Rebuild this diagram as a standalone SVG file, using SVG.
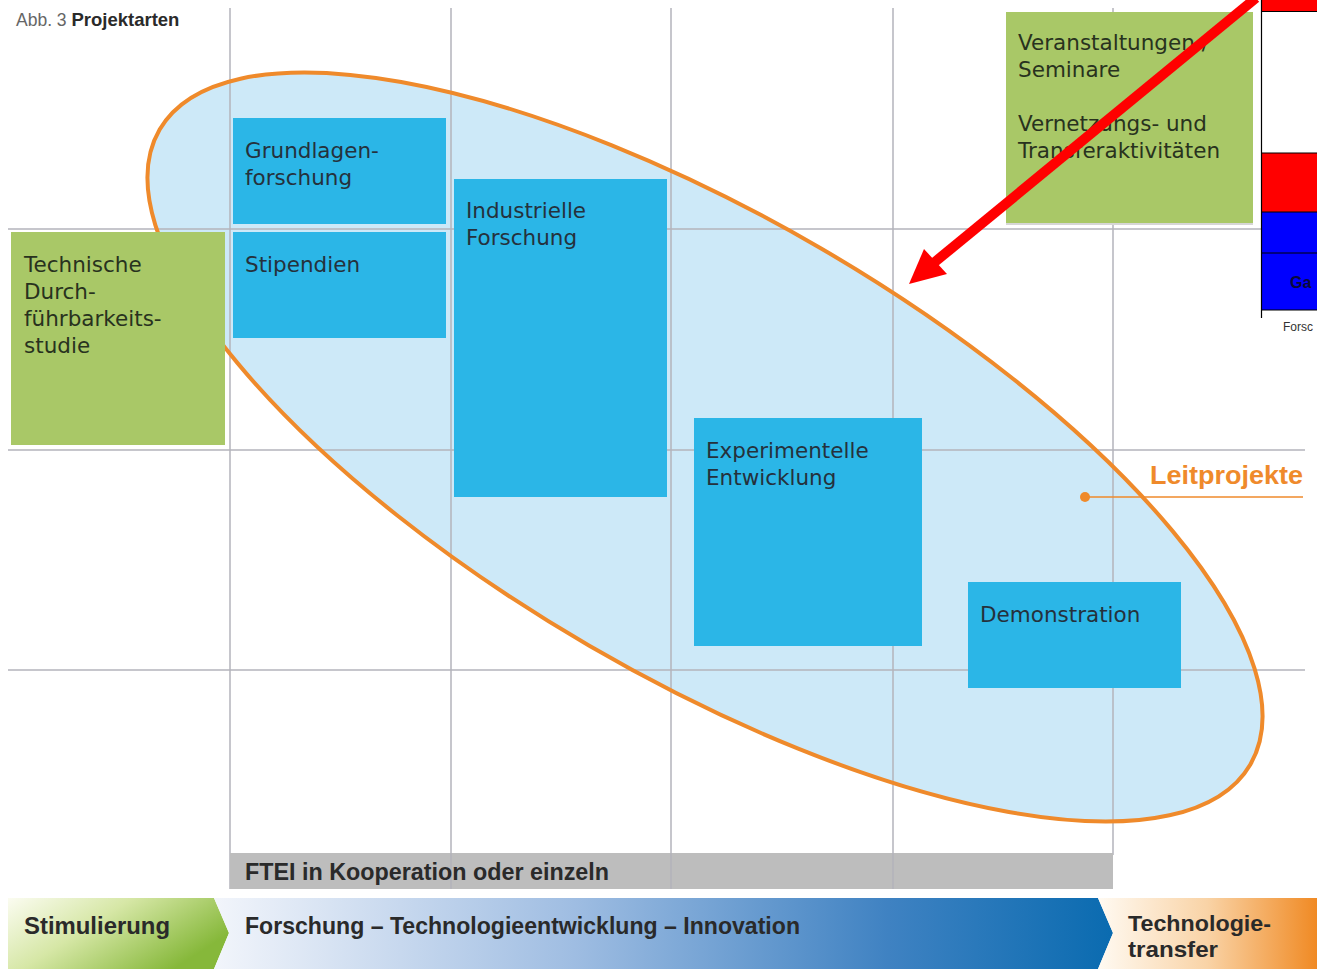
<svg xmlns="http://www.w3.org/2000/svg" width="1317" height="969" viewBox="0 0 1317 969">
<defs>
<linearGradient id="gGreen" x1="0" y1="0" x2="1" y2="0.5">
<stop offset="0" stop-color="#fbfcf1"/>
<stop offset="0.45" stop-color="#d6e7a6"/>
<stop offset="1" stop-color="#86b83a"/>
</linearGradient>
<linearGradient id="gBlue" x1="0" y1="0" x2="1" y2="0">
<stop offset="0" stop-color="#f2f5fb"/>
<stop offset="0.4" stop-color="#9fbde2"/>
<stop offset="0.75" stop-color="#3f82c2"/>
<stop offset="1" stop-color="#0a6bb0"/>
</linearGradient>
<linearGradient id="gOrange" x1="0" y1="0" x2="1" y2="0">
<stop offset="0" stop-color="#fffaf2"/>
<stop offset="0.5" stop-color="#f9d3a6"/>
<stop offset="1" stop-color="#f08a24"/>
</linearGradient>
<style>
.grid{stroke:#b3b3bb;stroke-width:1.5;fill:none}
.blue{fill:#2bb6e7}
.green{fill:#a9c867}
.lbl{font-family:"DejaVu Sans",sans-serif;font-size:21.5px;fill:#25313c}
.glbl{font-family:"DejaVu Sans",sans-serif;font-size:21.5px;fill:#28321e}
.bold{font-family:"Liberation Sans",Arial,sans-serif;font-weight:bold;fill:#2a2a2a}
.frag{stroke:#000;stroke-width:1.2}
</style>
</defs>
<rect width="1317" height="969" fill="#ffffff"/>

<g id="title">
<text x="16" y="26" font-family="Liberation Sans, Arial, sans-serif" font-size="17.5" fill="#666">Abb. 3 <tspan font-weight="bold" font-size="18.5" fill="#2a2a2a">Projektarten</tspan></text>
</g>

<g id="leitprojekte-ellipse">
<ellipse id="ellipse-fill" cx="705" cy="447" rx="631" ry="230" transform="rotate(30.2 705 447)" fill="#cde9f8"/>
</g>

<g id="grid">
<line class="grid" x1="230" y1="8" x2="230" y2="889"/>
<line class="grid" x1="451" y1="8" x2="451" y2="889"/>
<line class="grid" x1="671" y1="8" x2="671" y2="889"/>
<line class="grid" x1="893" y1="8" x2="893" y2="889"/>
<line class="grid" x1="1113" y1="8" x2="1113" y2="855"/>
<line class="grid" x1="8" y1="229" x2="1305" y2="229"/>
<line class="grid" x1="8" y1="450" x2="1305" y2="450"/>
<line class="grid" x1="8" y1="670" x2="1305" y2="670"/>
</g>

<g id="ellipse-outline">
<ellipse cx="705" cy="447" rx="631" ry="230" transform="rotate(30.2 705 447)" fill="none" stroke="#ef8a2b" stroke-width="4"/>
</g>

<g id="ftei-bar">
<rect x="230" y="853" width="883" height="36" fill="#bdbdbd"/>
<line class="grid" x1="451" y1="853" x2="451" y2="889" stroke="#a5a5a5"/>
<line class="grid" x1="671" y1="853" x2="671" y2="889" stroke="#a5a5a5"/>
<line class="grid" x1="893" y1="853" x2="893" y2="889" stroke="#a5a5a5"/>
<text class="bold" x="245" y="880" font-size="23" textLength="364" lengthAdjust="spacingAndGlyphs">FTEI in Kooperation oder einzeln</text>
</g>

<g id="node-grundlagen">
<rect class="blue" x="233" y="118" width="213" height="106"/>
<text class="lbl" x="245" y="158">Grundlagen-</text>
<text class="lbl" x="245" y="185">forschung</text>
</g>
<g id="node-stipendien">
<rect class="blue" x="233" y="232" width="213" height="106"/>
<text class="lbl" x="245" y="272">Stipendien</text>
</g>
<g id="node-industrielle">
<rect class="blue" x="454" y="179" width="213" height="318"/>
<text class="lbl" x="466" y="218">Industrielle</text>
<text class="lbl" x="466" y="245">Forschung</text>
</g>
<g id="node-experimentelle">
<rect class="blue" x="694" y="418" width="228" height="228"/>
<text class="lbl" x="706" y="458">Experimentelle</text>
<text class="lbl" x="706" y="485">Entwicklung</text>
</g>
<g id="node-demonstration">
<rect class="blue" x="968" y="582" width="213" height="106"/>
<text class="lbl" x="980" y="622">Demonstration</text>
</g>
<g id="node-machbarkeit">
<rect class="green" x="11" y="232" width="214" height="213"/>
<text class="glbl" x="24" y="272">Technische</text>
<text class="glbl" x="24" y="299">Durch-</text>
<text class="glbl" x="24" y="326">führbarkeits-</text>
<text class="glbl" x="24" y="353">studie</text>
</g>
<g id="node-veranstaltungen">
<rect x="1006" y="13" width="247" height="212" fill="#d6d6d6"/>
<rect class="green" x="1006" y="12" width="247" height="211"/>
<text class="glbl" x="1018" y="50">Veranstaltungen /</text>
<text class="glbl" x="1018" y="77">Seminare</text>
<text class="glbl" x="1018" y="131">Vernetzungs- und</text>
<text class="glbl" x="1018" y="158">Transferaktivitäten</text>
</g>

<g id="node-leitprojekte-label">
<text class="bold" x="1150" y="484" font-size="26" style="fill:#ef8a2b" textLength="153" lengthAdjust="spacingAndGlyphs">Leitprojekte</text>
<line x1="1085" y1="497" x2="1303" y2="497" stroke="#ef8a2b" stroke-width="1.5"/>
<circle cx="1085" cy="497" r="5" fill="#ef8a2b"/>
</g>

<g id="phase-band">
<polygon points="8,898 214,898 229,933 214,969 8,969" fill="url(#gGreen)"/>
<polygon points="214,898 1098,898 1113,933 1098,969 214,969 229,933" fill="url(#gBlue)"/>
<polygon points="1098,898 1317,898 1317,969 1098,969 1113,933" fill="url(#gOrange)"/>
<text class="bold" x="24" y="934" font-size="24" textLength="146" lengthAdjust="spacingAndGlyphs">Stimulierung</text>
<text class="bold" x="245" y="934" font-size="24" textLength="555" lengthAdjust="spacingAndGlyphs">Forschung – Technologieentwicklung – Innovation</text>
<text class="bold" x="1128" y="931" font-size="22.5" textLength="143" lengthAdjust="spacingAndGlyphs">Technologie-</text>
<text class="bold" x="1128" y="957" font-size="22.5" textLength="90" lengthAdjust="spacingAndGlyphs">transfer</text>
</g>

<g id="fragment-right">
<rect x="1261" y="0" width="56" height="11" fill="#ff0000"/>
<rect x="1261" y="153" width="56" height="59" fill="#ff0000"/>
<rect x="1261" y="212" width="56" height="98" fill="#0000ff"/>
<line class="frag" x1="1261" y1="11.5" x2="1317" y2="11.5"/>
<line class="frag" x1="1261" y1="153" x2="1317" y2="153"/>
<line class="frag" x1="1261" y1="212" x2="1317" y2="212"/>
<line class="frag" x1="1261" y1="253" x2="1317" y2="253"/>
<line class="frag" x1="1261" y1="310" x2="1317" y2="310"/>
<line class="frag" x1="1261.5" y1="0" x2="1261.5" y2="318"/>
<text x="1290" y="288" font-family="Liberation Sans, Arial, sans-serif" font-weight="bold" font-size="16" fill="#0a0a3a">Ga</text>
<text x="1283" y="331" font-family="Liberation Sans, Arial, sans-serif" font-size="12" fill="#333">Forsc</text>
</g>

<g id="connectors">
<line x1="1256" y1="-2" x2="930" y2="266" stroke="#ff0000" stroke-width="10"/>
<polygon points="909,284 924,249 947,274" fill="#ff0000"/>
</g>
</svg>
